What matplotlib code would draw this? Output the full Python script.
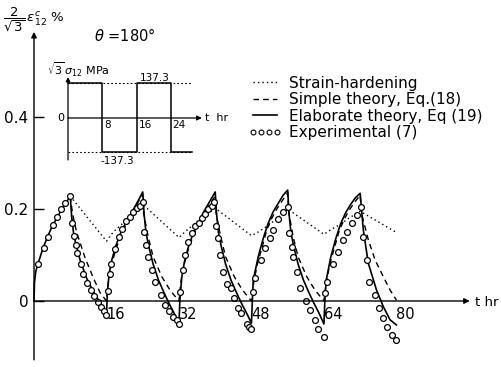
import matplotlib
matplotlib.use('Agg')
import matplotlib.pyplot as plt
from matplotlib.lines import Line2D

# experimental points (circles)
t_exp = [0.95, 2.1, 3.2, 4.1, 5.0, 6.0, 6.9, 7.9,
         8.3, 8.8, 9.2, 9.6, 10.3, 10.9, 11.6, 12.5, 13.3, 14.1, 14.8, 15.5, 16.0,
         16.3, 16.7, 17.1, 17.8, 18.7, 19.5, 20.4, 21.2, 21.9, 22.7, 23.3, 24.0,
         24.3, 24.7, 25.2, 26.0, 26.7, 28.0, 28.9, 29.9, 30.7, 31.5, 31.9,
         32.2, 32.8, 33.3, 34.1, 34.8, 35.5, 36.5, 37.0, 37.7, 38.5, 39.2, 39.8,
         40.2, 40.7, 41.1, 41.8, 42.7, 43.4, 44.2, 45.1, 45.8, 47.0, 47.5, 48.0,
         48.4, 48.8, 50.0, 51.0, 52.1, 52.8, 53.9, 55.0, 56.1,
         56.4, 56.9, 57.2, 58.0, 58.7, 60.0, 60.9, 62.0, 62.8, 64.0,
         64.2, 64.7, 65.9, 67.0, 68.3, 69.2, 70.1, 71.2, 72.1,
         72.6, 73.4, 74.0, 75.3, 76.2, 77.1, 78.0, 79.0, 79.9]
e_exp = [0.08, 0.115, 0.14, 0.165, 0.183, 0.2, 0.212, 0.229,
         0.17, 0.142, 0.122, 0.105, 0.08, 0.058, 0.04, 0.024, 0.01, -0.002, -0.012, -0.022, -0.031,
         0.022, 0.058, 0.08, 0.112, 0.14, 0.157, 0.173, 0.183, 0.194, 0.203, 0.207, 0.216,
         0.151, 0.122, 0.096, 0.067, 0.042, 0.013, -0.009, -0.021, -0.034, -0.041, -0.05,
         0.02, 0.067, 0.1, 0.129, 0.147, 0.162, 0.17, 0.18, 0.19, 0.199, 0.207, 0.216,
         0.162, 0.136, 0.1, 0.064, 0.038, 0.028, 0.006, -0.016, -0.027, -0.049, -0.056, -0.06,
         0.02, 0.049, 0.089, 0.115, 0.136, 0.154, 0.178, 0.194, 0.205,
         0.147, 0.118, 0.096, 0.064, 0.028, 0.0, -0.02, -0.041, -0.06, -0.079,
         0.017, 0.041, 0.08, 0.106, 0.133, 0.151, 0.169, 0.188, 0.204,
         0.14, 0.089, 0.042, 0.013, -0.015, -0.036, -0.056, -0.074, -0.085]

# elaborate theory, Eq (19)
t_el = [0, 0.1, 0.4, 1, 2, 3, 4, 5, 6, 7, 8,
        8.3, 8.7, 9.2, 10.2, 11.6, 13.1, 14.2, 15.3, 16,
        16.2, 16.6, 17.2, 18, 19, 20, 21, 22, 23, 24,
        24.3, 24.7, 25.3, 26.3, 27.5, 28.7, 29.8, 31, 32,
        32.2, 32.6, 33.2, 34, 35, 36, 37, 38, 39, 40,
        40.3, 40.7, 41.3, 42.3, 43.5, 44.7, 45.8, 47, 48,
        48.2, 48.4, 49.5, 50.6, 51.7, 52.8, 53.9, 55, 56,
        56.3, 56.7, 57.3, 58.3, 59.5, 60.7, 61.8, 63, 64,
        64.2, 64.5, 65.5, 66.6, 67.7, 68.8, 69.9, 71, 72,
        72.7, 73.8, 75.6, 77.1, 78.6, 80]
e_el = [0, 0.04, 0.065, 0.085, 0.115, 0.14, 0.162, 0.18, 0.197, 0.212, 0.228,
        0.185, 0.15, 0.125, 0.088, 0.05, 0.02, 0.003, -0.016, -0.03,
        0.02, 0.06, 0.09, 0.118, 0.145, 0.165, 0.183, 0.2, 0.218, 0.237,
        0.19, 0.15, 0.12, 0.08, 0.045, 0.018, -0.005, -0.028, -0.048,
        0.0, 0.05, 0.085, 0.115, 0.143, 0.165, 0.185, 0.203, 0.22, 0.237,
        0.19, 0.15, 0.12, 0.08, 0.045, 0.018, -0.005, -0.028, -0.048,
        0.0, 0.046, 0.096, 0.136, 0.169, 0.194, 0.212, 0.23, 0.241,
        0.19, 0.15, 0.12, 0.08, 0.045, 0.018, -0.005, -0.028, -0.05,
        0.0, 0.045, 0.095, 0.135, 0.168, 0.192, 0.21, 0.225, 0.234,
        0.154, 0.082, 0.024, -0.012, -0.041, -0.052]

# simple theory, Eq.(18)
t_si = [8, 8.5, 9.4, 11.3, 13.1, 14.6, 16,
        16.4, 17, 18, 19, 20, 21, 22, 23, 24,
        24.2, 25.2, 26.3, 28.2, 30, 32,
        32.4, 33, 34, 35, 36, 37, 38, 39, 40,
        40.2, 41.2, 42.3, 44.2, 46, 48,
        48.5, 49.3, 50.3, 51.4, 52.5, 53.6, 54.8, 56,
        56.2, 57.2, 58.3, 60.2, 62, 64,
        64.5, 65.3, 66.3, 67.4, 68.5, 69.6, 70.8, 72,
        72.3, 73.8, 75.3, 77.1, 78.6, 80]
e_si = [0.228, 0.19, 0.15, 0.093, 0.05, 0.018, 0.0,
        0.04, 0.075, 0.11, 0.138, 0.16, 0.18, 0.198, 0.215, 0.232,
        0.19, 0.14, 0.096, 0.053, 0.024, 0.0,
        0.04, 0.075, 0.11, 0.138, 0.16, 0.18, 0.198, 0.213, 0.228,
        0.19, 0.14, 0.096, 0.053, 0.024, 0.0,
        0.04, 0.08, 0.115, 0.155, 0.18, 0.2, 0.218, 0.235,
        0.195, 0.14, 0.096, 0.053, 0.024, 0.0,
        0.04, 0.08, 0.115, 0.153, 0.178, 0.198, 0.215, 0.23,
        0.19, 0.133, 0.089, 0.053, 0.024, 0.002]

# strain-hardening
t_sh = [8, 16, 17.5, 19.5, 21.5, 24, 32, 33.5, 35.5, 37.5, 40, 48, 49.5, 51.5, 53.5, 56,
        64, 65.5, 67.5, 69.5, 72, 80]
e_sh = [0.228, 0.13, 0.15, 0.168, 0.185, 0.21, 0.138, 0.152, 0.168, 0.183, 0.202, 0.142,
        0.15, 0.163, 0.178, 0.2, 0.145, 0.155, 0.166, 0.18, 0.195, 0.149]

# stress history (inset)
t_st = [0, 8, 16, 24, 29]
s_st = [137.3, -137.3, 137.3, -137.3, -137.3]
s_amp = 137.3

xticks = [16, 32, 48, 64, 80]
yticks = [0, 0.2, 0.4]
ylabels = ['0', '0.2', '0.4']

fig = plt.figure(figsize=(5.01, 3.67), dpi=100)
ax = fig.add_axes([0, 0, 1, 1])
ax.set_xlim(-7.506, 103.09)
ax.set_ylim(-0.1435, 0.6543)
for s in ax.spines.values():
    s.set_visible(False)
ax.spines['left'].set_position(('data', 0))
ax.spines['bottom'].set_position(('data', 0))

ax.plot(t_sh, e_sh, color='k', lw=1.0, ls=(0, (1, 2.2)))
ax.plot(t_si, e_si, color='k', lw=1.0, ls=(0, (4, 3)))
ax.plot(t_el, e_el, color='k', lw=1.2)
ax.plot(t_exp, e_exp, ls='none', marker='o', ms=4.2, mfc='white', mec='k', mew=0.9)

ax.set_xticks(xticks)
ax.set_xticklabels([str(v) for v in xticks], fontsize=10.5)
ax.tick_params(axis='x', length=0, pad=4)
for lbl in ax.get_xticklabels():
    lbl.set_ha('left')
ax.set_yticks(yticks)
ax.set_yticklabels(ylabels, fontsize=11)
ax.tick_params(axis='y', direction='in', length=7.5, width=1, pad=4)

arr = dict(arrowstyle='-|>', color='k', lw=1.0, mutation_scale=8, shrinkA=0, shrinkB=0)
ax.annotate('', xy=(0, 0.585), xytext=(0, -0.128), arrowprops=arr)
ax.annotate('', xy=(96.2, 0), xytext=(0, 0), arrowprops=arr)
ax.text(97.4, -0.004, 't hr', fontsize=9.5, va='center', ha='left')
ax.text(-6.8, 0.612, r'$\dfrac{2}{\sqrt{3}}\,\varepsilon^{c}_{12}$ %', fontsize=9.5, va='center', ha='left')
ax.text(20.1, 0.578, r'$\theta$ =180°', fontsize=10.5, va='center', ha='center')

handles = [Line2D([], [], color='k', lw=1.0, ls=(0, (1, 2.2))),
           Line2D([], [], color='k', lw=1.0, ls=(0, (4, 3))),
           Line2D([], [], color='k', lw=1.2),
           Line2D([], [], ls='none', marker='o', ms=3.5, mfc='white', mec='k', mew=0.8)]
names = ['Strain-hardening', 'Simple theory, Eq.(18)', 'Elaborate theory, Eq (19)', 'Experimental (7)']
ax.legend(handles, names, loc='upper left', bbox_to_anchor=(248 / 501, 0.794),
          bbox_transform=fig.transFigure, frameon=False, fontsize=11, numpoints=4,
          handlelength=2.2, handletextpad=0.5, labelspacing=0.1, borderpad=0, borderaxespad=0)

# inset: stress history
ins = fig.add_axes([40 / 501, 1 - 170 / 367, 200 / 501, 110 / 367])
ins.set_xlim(-6.53, 40.09)
ins.set_ylim(-207.0, 230.8)
ins.axis('off')
ins.patch.set_alpha(0)
ins.plot(t_st, s_st, color='k', lw=1.1, drawstyle='steps-post')
ins.plot([0, 29], [s_amp, s_amp], color='k', lw=0.8, ls=(0, (1.5, 2)))
ins.plot([0, 29], [-s_amp, -s_amp], color='k', lw=0.8, ls=(0, (1.5, 2)))
ins.annotate('', xy=(0, 163), xytext=(0, -167), arrowprops=dict(arr, lw=0.9, mutation_scale=6))
ins.annotate('', xy=(31.2, 0), xytext=(0, 0), arrowprops=dict(arr, lw=0.9, mutation_scale=7))
ins.text(-0.9, 0, '0', fontsize=8, ha='right', va='center')
for v in t_st[1:4]:
    ins.text(v + 0.4, -8, str(v), fontsize=7.5, ha='left', va='top')
ins.text(20.3, 159, '137.3', fontsize=7.5, ha='center', va='center')
ins.text(11.4, -171, '-137.3', fontsize=7.5, ha='center', va='center')
ins.text(-4.9, 191, r'$\sqrt{3}\,\sigma_{12}$ MPa', fontsize=8, ha='left', va='center')
ins.text(31.9, 0, 't  hr', fontsize=8, ha='left', va='center')

fig.savefig('out.png', dpi=100)
